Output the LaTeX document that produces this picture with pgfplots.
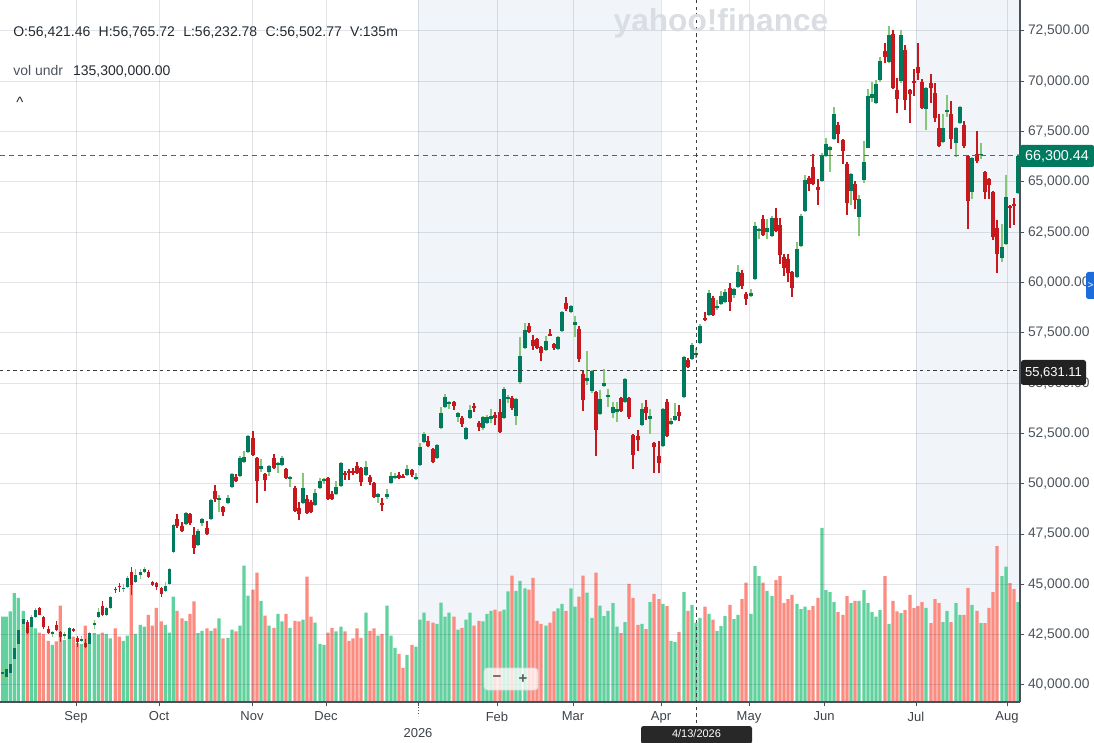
\documentclass[border=0pt]{standalone}
\usepackage{pgfplots}
\pgfplotsset{compat=1.18}
\usepackage{pgfplotstable}
\usepackage{fontspec}
\setmainfont{Liberation Sans}
\definecolor{upbody}{RGB}{0,122,94}
\definecolor{upwick}{RGB}{134,199,122}
\definecolor{dncol}{RGB}{199,25,29}
\definecolor{volup}{RGB}{97,210,158}
\definecolor{voldn}{RGB}{252,139,128}
\definecolor{gridc}{RGB}{30,45,70}
\definecolor{bgband}{RGB}{241,245,250}
\definecolor{axc}{RGB}{74,80,87}
\definecolor{lbl}{RGB}{77,84,92}
\definecolor{txt}{RGB}{35,42,49}
\definecolor{tabblue}{RGB}{29,108,219}
\newcommand\fs[1]{\fontsize{#1}{#1}\selectfont}

\pgfplotstableread{
x o h l c v
2.7 40540 40890 40290 40640 145
6.3 40390 40890 40290 40790 145
10.3 40590 41140 40540 41040 154
14.3 41290 41930 41240 41830 185
18.3 42030 42880 41980 42730 177
23.3 43030 43380 42930 43280 155
31.3 42880 43480 42830 43380 131
35.3 43380 43820 43330 43720 125
52.3 42530 42680 42380 42630 97
64.3 42430 42630 42280 42530 105
69.3 42280 42880 42230 42830 114
81.3 42180 42430 42130 42280 99
89.3 42030 42630 41980 42580 111
94.3 42980 43230 42780 43080 117
98.3 43380 43820 43330 43620 115
106.3 43480 43870 43430 43820 116
110.3 43820 44420 43770 44370 108
123.3 44770 45020 44620 44820 104
127.3 44870 45410 44820 45310 113
135.3 45110 45760 45070 45460 116
140.3 45460 45760 45260 45610 131
144.3 45610 45860 45560 45760 128
165.3 44670 45110 44620 44920 131
169.3 45020 45810 44970 45760 118
173.3 46610 48000 46560 47950 179
186 48000 48590 47950 48540 138
198 46950 47750 46900 47650 117
202 48050 48300 47900 48250 121
211 48250 49240 48200 49190 121
219 49190 49440 48590 49290 142
228 49040 49440 48990 49290 109
232 49840 50530 49790 50480 123
240 50380 51380 50330 51280 130
244 51080 51630 51030 51330 232
248 51580 52420 51530 52370 181
261 50730 51230 50580 50880 172
269 50580 50930 50380 50880 130
278 50930 51080 50530 51030 150
282 50930 51380 50880 51280 137
290 50230 50380 49840 50330 126
303 49040 50530 48990 49790 140
315 48940 49740 48890 49540 135
320 49790 50280 49740 50130 99
324 50130 50280 49990 50230 97
336 49490 50130 49440 49840 120
341 49890 51080 49840 51030 128
366 50430 51130 50380 50830 152
378 49340 49540 49040 49490 113
387 49340 49740 49240 49490 164
391 50030 50580 49990 50380 113
395 50330 50530 50230 50380 92
407 50430 50930 50380 50730 80
416 50280 50530 50180 50330 94
420 50930 52020 50880 51820 140
424 52070 52570 52020 52470 152
437 51280 51970 51230 51920 133
441 52770 53810 52720 53510 169
445 53810 54460 53760 54310 145
449 53960 54110 53710 54060 152
458 53320 53560 53070 53510 123
466 52220 52820 52170 52770 140
470 53270 53910 53220 53660 152
483 52770 53370 52670 53320 137
487 53020 53420 52970 53320 150
491 53220 53710 53020 53370 155
504 53270 54810 53220 54710 157
508 54210 54410 54010 54310 188
516 53370 54260 52920 54210 189
520 55060 57290 54960 56350 206
525 56740 57990 56700 57640 193
546 56650 57340 56600 57090 130
558 56700 57340 56650 57290 159
562 57590 58580 57540 58530 167
571 58530 58880 58480 58830 193
575 57890 58340 57290 58040 162
587 55100 56600 54910 55250 186
592 54610 55650 54510 55600 143
600 53460 54660 53420 54210 164
604 54860 55700 54810 55010 146
608 54310 54710 53810 54410 155
613 53510 54060 53270 53810 168
617 53560 54060 53070 53710 128
625 54060 55250 54010 55200 136
642 52920 54010 52870 53710 133
650 53220 53710 52470 53370 170
663 51870 53760 51820 53710 167
671 52970 53270 52920 53120 104
675 53170 54010 53120 53370 102
684 54310 56350 54260 56300 187
692 56200 56990 56150 56890 165
696 56421.46 56765.72 56232.78 56502.77 135
700 56990 57940 56940 57840 143
709 58390 59630 58340 59480 150
717 58730 59130 58630 58830 121
721 58930 59580 58880 59330 129
725 59030 59680 58980 59530 146
734 59380 59730 59230 59680 141
738 59780 60870 59730 60520 148
751 59330 59680 59280 59480 150
755 60170 63010 60120 62810 231
759 62560 62710 62160 62660 214
767 62510 63160 62160 62710 189
772 62310 63310 62260 63210 180
797 60270 62010 60220 61660 167
801 61810 63400 61760 63300 158
805 63550 65340 63500 65090 162
822 65040 66440 64990 66290 296
826 66290 67180 66240 66880 190
830 66570 66760 65490 66710 187
834 67130 68720 67080 68370 170
851 64550 65440 63850 65390 168
859 63260 64350 62310 64150 172
864 65090 67030 64950 65990 190
868 66710 69620 66660 69270 168
872 69170 69970 68970 69370 153
876 68920 70060 68870 69870 145
880 70060 71210 69970 71010 156
889 70960 72750 70910 72300 133
901 70010 72550 69920 72300 151
926 68620 69720 67580 69670 160
943 66980 68370 66930 67680 136
947 68520 69320 68220 68570 155
956 66930 67730 66240 67680 168
960 67930 68770 67880 68720 148
972 64500 66240 64150 66190 165
981 66340 66930 66140 66390 134
1002 61220 62910 61020 61760 214
1006 61910 65340 61860 64250 230
1018 64450 66400 64400 66300 170
}\updata

\pgfplotstableread{
x o h l c v
27.3 43130 43230 42530 42580 126
39.3 43820 43870 43450 43480 118
43.3 43380 43430 42780 42880 116
48.3 42780 42930 42530 42580 104
56.3 42980 43180 42680 42730 103
60.3 42630 42680 42130 42380 164
73.3 42780 42830 42630 42680 111
77.3 42330 42430 41880 42130 100
85.3 42080 42280 41830 41880 130
102.3 43920 44170 43430 43480 118
115.3 44770 44870 44570 44720 125
119.3 44920 45070 44620 44870 111
131.3 45610 45860 44470 44970 199
148.3 45610 45710 45310 45360 148
152.3 45110 45160 44920 44970 130
156.3 45070 45110 44720 44870 160
161.3 44820 44870 44370 44520 137
177 48250 48490 47800 47900 155
182 47900 48100 47600 47650 142
190 48490 48540 47950 48050 150
194 47450 47850 46510 46800 171
207 47800 48150 47450 47500 125
215 49640 49940 49090 49240 125
223 48840 48890 48400 48590 108
236 50330 50480 50080 50130 120
253 52270 52620 51400 51430 191
257 51280 51330 49040 50130 220
265 50480 50530 49640 50180 147
274 51280 51480 50730 50780 126
286 50730 50780 50230 50280 150
295 49790 49890 48590 48640 138
299 48790 49090 48200 48490 137
307 49240 49440 48490 48540 213
311 49090 49190 48540 48590 145
328 50280 50330 49190 49240 118
332 49490 49640 49190 49240 126
345 50530 50630 50180 50480 120
349 50630 50730 50180 50580 104
353 50630 50780 50430 50580 108
357 50880 51080 50480 50530 125
361 50780 50830 49890 50080 109
370 50330 50430 49940 50080 121
374 50030 50080 49290 49340 125
382 49040 49290 48640 48940 116
399 50430 50580 50230 50280 82
403 50380 50480 50280 50330 58
412 50680 50730 50330 50430 97
428 52120 52370 51820 51870 138
433 51730 51770 51030 51080 135
454 54060 54110 53660 53860 145
462 53270 53370 52820 52970 126
474 53860 54010 53560 53760 130
479 53020 53120 52620 52820 138
495 53420 53560 52920 53270 157
500 53560 54210 52520 52570 154
512 54260 54360 53660 53760 215
529 57840 57990 57490 57540 191
533 57140 57390 56650 56840 211
537 57190 57240 56700 56740 138
541 56790 56840 56100 56500 133
550 57440 57690 57340 57390 135
554 56940 56990 56650 56740 154
566 58980 59280 58580 58680 155
579 57690 57840 56050 56200 179
583 55450 55650 53610 54160 215
596 54560 54610 51380 52670 220
621 54260 54310 53560 53610 117
629 54260 54310 53220 53320 201
633 52420 52470 50730 51430 177
638 52370 52670 51630 52170 131
646 53810 54160 53170 53510 124
654 52020 52070 50530 51820 184
659 51380 52120 50530 51030 175
667 54060 54210 52320 52370 163
679 53560 53910 53120 53370 119
688 56150 56250 55750 55800 155
705 58240 58530 58090 58140 162
713 59230 59330 58340 58390 140
730 59730 59980 58580 59030 165
742 60470 60620 59680 59830 175
746 59430 59530 58880 59180 203
763 63160 63360 62310 62360 203
776 63210 63700 62510 62560 207
780 62860 63210 60920 61370 214
784 61270 61420 60320 60720 168
788 61170 61420 60030 60470 175
792 60520 60570 59280 59730 182
809 65190 65290 64550 64900 156
813 65740 66390 64850 64900 163
818 64750 65140 63850 64600 177
838 67830 67980 66930 67380 153
843 67080 67130 65890 66520 148
847 65890 65990 63360 63950 180
855 64900 65040 63650 64100 172
885 71510 71900 70910 71210 214
893 72350 72550 69620 69670 172
897 69570 70160 68420 69120 154
905 71560 71800 68570 69070 156
910 69570 69620 67930 69370 182
914 70010 70610 69270 69970 160
918 70710 71900 70060 70410 163
922 69970 70110 68620 68670 170
931 69920 70360 68920 69670 134
935 69420 69920 67980 68180 175
939 67680 68370 66710 66760 168
951 68370 69020 66660 67130 136
964 67830 68030 66710 66760 148
968 66290 66340 62660 64050 194
977 66390 67530 65940 66040 155
985 65490 65540 64150 64500 134
989 65140 65190 64150 64850 160
993 64500 64550 62110 62260 187
997 62710 63110 60470 61420 265
1010 63800 63850 62710 63700 202
1014 63900 64200 62860 63850 192
}\dndata

\begin{document}
\begin{tikzpicture}[x=0.6pt,y=0.6pt]
\path[use as bounding box] (0,0) rectangle (1094,742);

% ---------- volume axis (background) ----------
\begin{axis}[at={(0pt,24pt)}, anchor=south west, scale only axis,
  width=612pt, height=421.2pt,
  xmin=0, xmax=1020, ymin=0, ymax=1193.4, hide axis]
  \fill[fill=bgband] (axis cs:418,0) rectangle (axis cs:661,1193.4);
  \fill[fill=bgband] (axis cs:916,0) rectangle (axis cs:1020,1193.4);
  \addplot[ybar, bar width=3.2, bar shift=0pt, fill=volup, draw=none] table[x=x,y=v]{\updata};
  \addplot[ybar, bar width=3.2, bar shift=0pt, fill=voldn, draw=none] table[x=x,y=v]{\dndata};
\end{axis}

% ---------- price axis ----------
\begin{axis}[at={(0pt,24pt)}, anchor=south west, scale only axis,
  width=612pt, height=421.2pt,
  xmin=0, xmax=1020, ymin=39150.6, ymax=74040,
  axis x line*=bottom, axis y line*=right,
  axis line style={draw=axc, line width=0.7pt, -},
  scaled y ticks=false,
  ytick={40000,42500,...,72500},
  xtick={76,159,252,326,418,497,573,661,749,824,916,1007},
  xticklabels={Sep,Oct,Nov,Dec,,Feb,Mar,Apr,May,Jun,Jul,Aug},
  grid=major,
  major grid style={draw=gridc, draw opacity=0.13, line width=0.6pt},
  tick align=outside, major tick length=2.6pt,
  tick style={draw=axc, line width=0.6pt},
  /pgf/number format/assume math mode=true,
  yticklabel={\pgfmathprintnumber[fixed,fixed zerofill,precision=2,1000 sep={,}]{\tick}},
  yticklabel style={font=\fs{8.3pt}, text=lbl, anchor=west, inner sep=0pt, xshift=2pt},
  xticklabel style={font=\fs{7.8pt}, text={rgb,255:red,60;green,66;blue,72}, anchor=north, inner sep=0pt, yshift=-3pt},
]
  % wicks
  \addplot[draw=none, mark=none, forget plot, error bars/.cd, y dir=both, y explicit, error mark=none,
    error bar style={draw=upwick, line width=0.65pt}]
    table[x=x, y expr={(\thisrow{h}+\thisrow{l})/2}, y error expr={(\thisrow{h}-\thisrow{l})/2}]{\updata};
  \addplot[draw=none, mark=none, forget plot, error bars/.cd, y dir=both, y explicit, error mark=none,
    error bar style={draw=dncol, line width=0.65pt}]
    table[x=x, y expr={(\thisrow{h}+\thisrow{l})/2}, y error expr={(\thisrow{h}-\thisrow{l})/2}]{\dndata};
  % bodies
  \addplot[draw=none, mark=none, forget plot, error bars/.cd, y dir=both, y explicit, error mark=none,
    error bar style={draw=upbody, line width=1.9pt}]
    table[x=x, y expr={(\thisrow{o}+\thisrow{c})/2}, y error expr={max(abs(\thisrow{c}-\thisrow{o})/2,30)}]{\updata};
  \addplot[draw=none, mark=none, forget plot, error bars/.cd, y dir=both, y explicit, error mark=none,
    error bar style={draw=dncol, line width=1.9pt}]
    table[x=x, y expr={(\thisrow{o}+\thisrow{c})/2}, y error expr={max(abs(\thisrow{c}-\thisrow{o})/2,30)}]{\dndata};
  % reference lines
  \draw[color={rgb,255:red,50;green,120;blue,98}, dash pattern=on 3pt off 2.4pt, line width=0.6pt]
    (axis cs:0,66300.44) -- (axis cs:1020,66300.44);
  \draw[color={rgb,255:red,60;green,60;blue,60}, dash pattern=on 2pt off 2pt, line width=0.6pt]
    (axis cs:0,55631.11) -- (axis cs:1020,55631.11);
\end{axis}

% crosshair vertical
\draw[color={rgb,255:red,60;green,60;blue,60}, dash pattern=on 2pt off 2pt, line width=0.6pt] (696,742) -- (696,16);

% price labels on the right
\fill[upbody, rounded corners=1.2pt] (1020,575) rectangle (1094,597);
\node[text=white, inner sep=0pt] at (1057,586) {\fs{8.6pt}66,300.44};
\fill[color={rgb,255:red,34;green,34;blue,34}, rounded corners=1.5pt] (1021,357) rectangle (1086,382);
\node[text=white, inner sep=0pt] at (1053.5,369.5) {\fs{7.8pt}55,631.11};
\fill[tabblue, rounded corners=1.5pt] (1086,443) rectangle (1100,470);
\node[text=white, inner sep=0pt] at (1090.5,456.5) {\fs{6pt}>};

% date label
\fill[color={rgb,255:red,40;green,40;blue,40}, rounded corners=1.5pt] (641,-2) rectangle (752,16);
\node[text=white, inner sep=0pt] at (696.5,8) {\fs{6.6pt}4/13/2026};

% year label under Jan tick
\draw[axc, dash pattern=on 0.6pt off 1.2pt, line width=0.5pt] (418,35) -- (418,26);
\node[text={rgb,255:red,60;green,66;blue,72}, inner sep=0pt] at (418,9) {\fs{7.8pt}2026};

% top-left info
\node[anchor=west, text=txt, inner sep=0pt] at (13,709) {\fs{8.4pt}O:56,421.46\hspace{5pt}H:56,765.72\hspace{5pt}L:56,232.78\hspace{5pt}C:56,502.77\hspace{5pt}V:135m};
\node[anchor=west, text=txt, inner sep=0pt] at (13,671) {\fs{8.4pt}\textcolor{lbl}{vol undr}\hspace{6pt}135,300,000.00};
\node[text=txt, inner sep=0pt] at (20,640) {\fs{9pt}\textasciicircum};

% watermark
\node[text={rgb,255:red,218;green,221;blue,226}, inner sep=0pt] at (721,719) {\fs{19pt}\bfseries yahoo!finance};

% zoom control
\draw[draw={rgb,255:red,215;green,218;blue,222}, fill=white, fill opacity=0.75, rounded corners=2pt] (484,52) rectangle (538,74);
\node[text={rgb,255:red,90;green,90;blue,90}, inner sep=0pt] at (497,63) {\fs{9pt}\bfseries −};
\node[text={rgb,255:red,90;green,90;blue,90}, inner sep=0pt] at (523,63) {\fs{9pt}\bfseries +};
\end{tikzpicture}
\end{document}
